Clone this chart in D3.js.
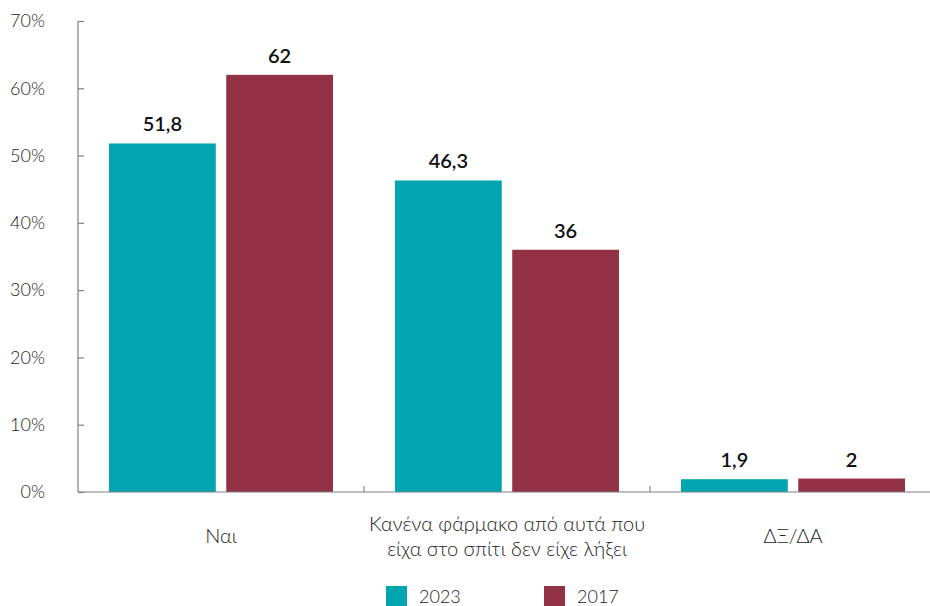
<!DOCTYPE html>
<html>
<head>
<meta charset="utf-8">
<script src="https://cdn.jsdelivr.net/npm/d3@7"></script>
<style>
  html, body { margin: 0; padding: 0; background: #fff; }
  svg { display: block; font-family: Lato, "Open Sans", sans-serif; }
</style>
</head>
<body>
<svg id="chart" width="930" height="606"></svg>
<script>
// Survey answers and percentages per year
const categories = [
  ["Ναι"],
  ["Κανένα φάρμακο από αυτά που", "είχα στο σπίτι δεν είχε λήξει"],
  ["ΔΞ/ΔΑ"]
];
const seriesNames = ["2023", "2017"];
const values2023 = [51.8, 46.3, 1.9];
const values2017 = [62, 36, 2];
const yTicks = [0, 10, 20, 30, 40, 50, 60, 70];
const colors = ["#00A5B0", "#933246"];

const svg = d3.select("#chart");
const margin = { left: 78, right: 0, top: 21, bottom: 114 };
const W = 930, H = 606;
const plotBottom = H - margin.bottom; // 492

const x = d3.scaleBand()
  .domain(d3.range(categories.length))
  .range([margin.left, margin.left + 286 * 3])
  .paddingInner(0).paddingOuter(0);

const xInner = d3.scaleBand()
  .domain(seriesNames)
  .range([31, 286 - 31])
  .paddingInner(10 / 112);

const y = d3.scaleLinear().domain([0, 70]).range([plotBottom, margin.top]);

const fmt = v => String(v).replace(".", ",");

// Y axis
const yAxis = d3.axisLeft(y).tickValues(yTicks).tickSize(-6).tickPadding(0)
  .tickFormat(d => d + "%");
const gy = svg.append("g").attr("transform", `translate(${margin.left},0)`).call(yAxis);
gy.select(".domain").attr("stroke", "#808080").attr("stroke-width", 1.2)
  .attr("d", `M0,${y(70)}V${plotBottom}`);
gy.selectAll(".tick line").attr("stroke", "#808080").attr("stroke-width", 1.2);
gy.selectAll(".tick text")
  .attr("x", -33).attr("text-anchor", "end")
  .attr("fill", "#222").attr("font-size", 18).attr("font-weight", 300)
  .attr("font-family", "Lato, sans-serif");

// Bars
const rows = categories.map((c, i) => ({ i, vals: [values2023[i], values2017[i]] }));
const groups = svg.append("g").selectAll("g").data(rows).join("g")
  .attr("transform", d => `translate(${x(d.i)},0)`);

groups.selectAll("rect")
  .data(d => d.vals.map((v, k) => ({ v, k })))
  .join("rect")
  .attr("x", d => xInner(seriesNames[d.k]))
  .attr("width", xInner.bandwidth())
  .attr("y", d => y(d.v))
  .attr("height", d => plotBottom - y(d.v))
  .attr("fill", d => colors[d.k]);

groups.selectAll("text.val")
  .data(d => d.vals.map((v, k) => ({ v, k })))
  .join("text")
  .attr("class", "val")
  .attr("x", d => xInner(seriesNames[d.k]) + xInner.bandwidth() / 2)
  .attr("y", d => y(d.v) - 12)
  .attr("text-anchor", "middle")
  .attr("font-size", 20).attr("font-weight", 600).attr("fill", "#111")
  .text(d => fmt(d.v));

// X axis
const gx = svg.append("g");
gx.append("line")
  .attr("x1", margin.left).attr("x2", W)
  .attr("y1", plotBottom).attr("y2", plotBottom)
  .attr("stroke", "#808080").attr("stroke-width", 1.2);
gx.selectAll("line.tick")
  .data(d3.range(1, categories.length))
  .join("line")
  .attr("class", "tick")
  .attr("x1", i => x(i)).attr("x2", i => x(i))
  .attr("y1", plotBottom).attr("y2", plotBottom - 6)
  .attr("stroke", "#808080").attr("stroke-width", 1.2);

const labels = gx.selectAll("text.cat").data(categories).join("text")
  .attr("class", "cat")
  .attr("text-anchor", "middle")
  .attr("font-size", 20).attr("font-weight", 300).attr("fill", "#222")
  .attr("transform", (d, i) => `translate(${x(i) + x.bandwidth() / 2},0)`);
labels.each(function (lines) {
  const t = d3.select(this);
  const lh = 25;
  const y0 = 544 - (lines.length - 1) * lh / 2 - 1;
  lines.forEach((ln, j) => {
    t.append("tspan").attr("x", 0).attr("y", y0 + j * lh).text(ln);
  });
});

// Legend
const legendX = [386, 544];
const lg = svg.append("g").selectAll("g").data(seriesNames).join("g")
  .attr("transform", (d, i) => `translate(${legendX[i]},586)`);
lg.append("rect").attr("width", 21).attr("height", 20).attr("fill", (d, i) => colors[i]);
lg.append("text").attr("x", 33).attr("y", 17)
  .attr("font-size", 18).attr("font-weight", 300).attr("fill", "#222")
  .text(d => d);
</script>
</body>
</html>
